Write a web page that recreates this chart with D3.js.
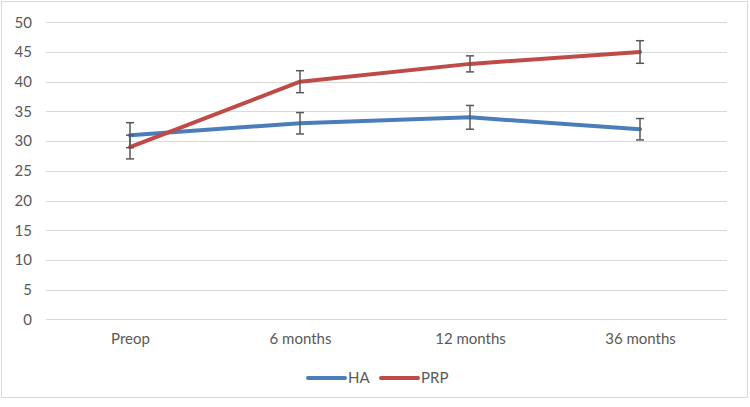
<!DOCTYPE html>
<html>
<head>
<meta charset="utf-8">
<script src="https://cdn.jsdelivr.net/npm/d3@7"></script>
<style>
  body { margin: 0; background: #fff; }
  svg text { font-family: Lato, "Open Sans", sans-serif; fill: #595959; }
</style>
</head>
<body>
<svg id="chart" width="750" height="407"></svg>
<script>
var categories = ["Preop", "6 months", "12 months", "36 months"];
var haValues = [31, 33, 34, 32];
var haErrors = [2.1, 1.8, 2.0, 1.8];
var prpValues = [29, 40, 43, 45];
var prpErrors = [2.0, 1.85, 1.35, 1.9];
var yTicks = [0, 5, 10, 15, 20, 25, 30, 35, 40, 45, 50];

var seriesList = [
  { name: "HA", values: haValues, errors: haErrors, color: "#4a7ebb" },
  { name: "PRP", values: prpValues, errors: prpErrors, color: "#be4b48" }
];

var svg = d3.select("#chart");

// outer frame
svg.append("rect")
    .attr("x", 1.5).attr("y", 1.5)
    .attr("width", 746).attr("height", 396)
    .style("fill", "#fff")
    .style("stroke", "#d9d9d9")
    .style("stroke-width", "1px");

var x = d3.scalePoint()
    .domain(categories)
    .range([130, 640]);

var y = d3.scaleLinear()
    .domain([0, 50])
    .range([319.3, 22.3]);

// gridlines
svg.append("g")
    .selectAll("line")
    .data(yTicks)
    .enter().append("line")
    .attr("x1", 46).attr("x2", 727)
    .attr("y1", function(d) { return Math.round(y(d)) + 0.5; })
    .attr("y2", function(d) { return Math.round(y(d)) + 0.5; })
    .style("stroke", "#d9d9d9")
    .style("stroke-width", "1px");

// y axis labels
var yAxis = d3.axisLeft(y).tickValues(yTicks).tickSize(0).tickPadding(0);
var yg = svg.append("g")
    .attr("transform", "translate(32,0)")
    .call(yAxis);
yg.select(".domain").remove();
yg.selectAll("text")
    .style("font-size", "15px")
    .style("font-family", "Lato, sans-serif")
    .style("fill", "#595959");

// x axis labels
var xAxis = d3.axisBottom(x).tickSize(0).tickPadding(0);
var xg = svg.append("g")
    .attr("transform", "translate(0,333)")
    .call(xAxis);
xg.select(".domain").remove();
xg.selectAll("text")
    .style("font-size", "15px")
    .style("font-family", "Lato, sans-serif")
    .style("fill", "#595959");

var line = d3.line()
    .x(function(d, i) { return x(categories[i]); })
    .y(function(d) { return y(d); });

seriesList.forEach(function(s) {
  svg.append("path")
      .datum(s.values)
      .attr("d", line)
      .style("fill", "none")
      .style("stroke", s.color)
      .style("stroke-width", "4px")
      .style("stroke-linejoin", "round")
      .style("stroke-linecap", "round");
});

// error bars
seriesList.forEach(function(s) {
  var g = svg.append("g").style("stroke", "#595959").style("stroke-width", "1.5px");
  s.values.forEach(function(v, i) {
    var cx = x(categories[i]);
    var top = y(v + s.errors[i]);
    var bot = y(v - s.errors[i]);
    g.append("line").attr("x1", cx).attr("x2", cx).attr("y1", top).attr("y2", bot);
    g.append("line").attr("x1", cx - 4).attr("x2", cx + 4).attr("y1", top).attr("y2", top);
    g.append("line").attr("x1", cx - 4).attr("x2", cx + 4).attr("y1", bot).attr("y2", bot);
  });
});

// legend
var legend = svg.append("g").attr("transform", "translate(308,378)");
var legendItem = legend.selectAll("g")
    .data(seriesList)
    .enter().append("g")
    .attr("transform", function(d, i) { return "translate(" + (i * 73) + ",0)"; });
legendItem.append("line")
    .attr("x1", 0).attr("x2", 37)
    .style("stroke", function(d) { return d.color; })
    .style("stroke-width", "4px")
    .style("stroke-linecap", "round");
legendItem.append("text")
    .attr("x", 40)
    .attr("dy", "0.35em")
    .style("font-size", "15px")
    .text(function(d) { return d.name; });
</script>
</body>
</html>
